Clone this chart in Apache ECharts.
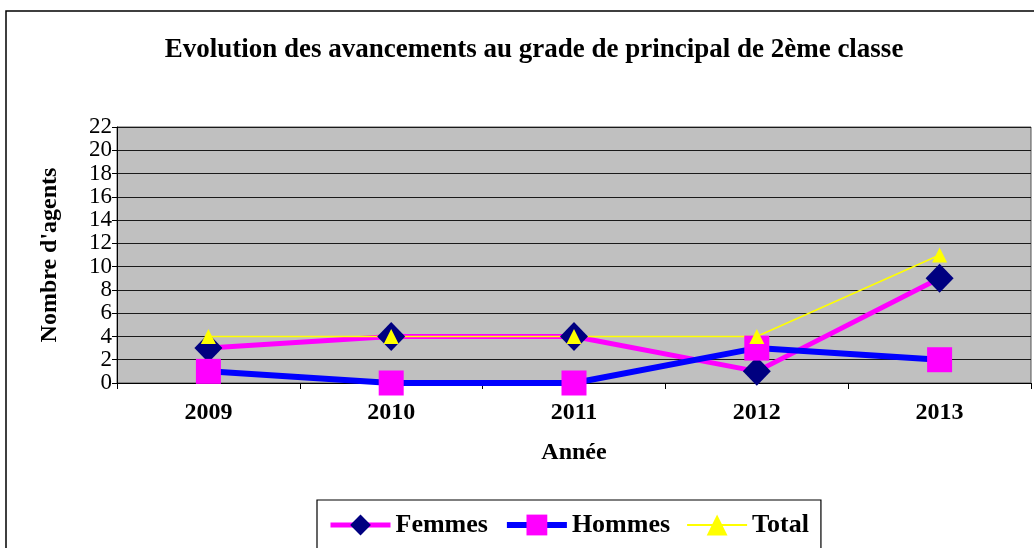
<!DOCTYPE html>
<html>
<head>
<meta charset="utf-8">
<script src="https://cdn.jsdelivr.net/npm/echarts@6/dist/echarts.min.js"></script>
<style>
html,body{margin:0;padding:0;background:#fff;}
#chart{width:1034px;height:548px;}
</style>
</head>
<body>
<div id="chart"></div>
<script>
// données
var annees = ['2009', '2010', '2011', '2012', '2013'];
var femmes = [3, 4, 4, 1, 9];
var hommes = [1, 0, 0, 3, 2];
var total = [4, 4, 4, 4, 11];

var police = '"Liberation Serif", "Times New Roman", serif';

var myChart = echarts.init(document.getElementById('chart'));

var option = {
    backgroundColor: '#fff',
    animation: false,
    title: {
        text: 'Evolution des avancements au grade de principal de 2ème classe',
        left: 529,
        top: 32,
        textAlign: 'center',
        textStyle: {fontFamily: police, fontSize: 27, fontWeight: 'bold', color: '#000'}
    },
    // cadre extérieur
    graphic: [{
        type: 'rect',
        shape: {x: 6, y: 11, width: 1200, height: 700},
        style: {fill: 'none', stroke: '#000', lineWidth: 1.5},
        silent: true,
        z: -1
    }],
    legend: {
        left: 317,
        top: 500,
        padding: [12, 12, 40, 11],
        itemGap: 16,
        itemWidth: 60,
        itemHeight: 26,
        borderColor: '#000',
        borderWidth: 1.2,
        backgroundColor: '#fff',
        textStyle: {fontFamily: police, fontSize: 26, fontWeight: 'bold', color: '#000'},
        data: [
            {name: 'Femmes', lineStyle: {width: 5}},
            {name: 'Hommes', lineStyle: {width: 6}},
            {name: 'Total', lineStyle: {width: 2}}
        ]
    },
    grid: {
        left: 117,
        right: 3,
        top: 127,
        bottom: 165,
        show: true,
        backgroundColor: '#c0c0c0',
        borderColor: '#555',
        borderWidth: 1
    },
    xAxis: {
        type: 'category',
        data: annees,
        boundaryGap: true,
        name: 'Année',
        nameLocation: 'middle',
        nameGap: 58,
        nameTextStyle: {fontFamily: police, fontSize: 24, fontWeight: 'bold', color: '#000'},
        axisLine: {lineStyle: {color: '#000', width: 1}},
        axisTick: {show: true, length: 6, lineStyle: {color: '#000'}},
        axisLabel: {fontFamily: police, fontSize: 24, fontWeight: 'bold', color: '#000', margin: 18}
    },
    yAxis: {
        type: 'value',
        min: 0,
        max: 22,
        interval: 2,
        name: "Nombre d'agents",
        nameLocation: 'middle',
        nameGap: 55,
        nameTextStyle: {fontFamily: police, fontSize: 24, fontWeight: 'bold', color: '#000'},
        axisLine: {show: true, lineStyle: {color: '#000', width: 1}},
        axisTick: {show: true, length: 5, lineStyle: {color: '#000'}},
        axisLabel: {fontFamily: police, fontSize: 23, color: '#000', margin: 5},
        splitLine: {show: true, lineStyle: {color: '#1a1a1a', width: 1}}
    },
    series: [
        {
            name: 'Femmes',
            type: 'line',
            data: femmes,
            symbol: 'diamond',
            symbolSize: [28, 29],
            lineStyle: {color: '#ff00ff', width: 5},
            itemStyle: {color: '#000080'}
        },
        {
            name: 'Hommes',
            type: 'line',
            data: hommes,
            symbol: 'rect',
            symbolSize: 25,
            lineStyle: {color: '#0000ff', width: 6},
            itemStyle: {color: '#ff00ff'}
        },
        {
            name: 'Total',
            type: 'line',
            data: total,
            symbol: 'triangle',
            symbolSize: 15,
            lineStyle: {color: '#ffff00', width: 1.5},
            itemStyle: {color: '#ffff00'}
        }
    ]
};

myChart.setOption(option);
</script>
</body>
</html>
